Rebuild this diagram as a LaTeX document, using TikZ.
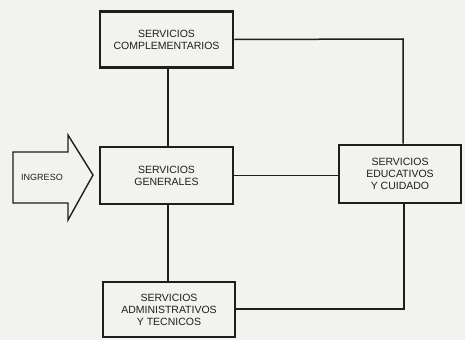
\documentclass[tikz,border=0pt]{standalone}
\usepackage{fontspec}
\setmainfont{Liberation Sans}
\usetikzlibrary{shapes.arrows}
\definecolor{paper}{RGB}{242,242,238}
\definecolor{ink}{RGB}{30,30,30}
\tikzset{
  svcbox/.style={draw=ink, line width=2.6pt, fill=paper, inner sep=0pt, align=center,
    font=\fontsize{10.5}{12}\selectfont, text=ink},
  link/.style={draw=ink, line width=1.5pt},
}
\begin{document}
\begin{tikzpicture}[x=1pt,y=-1pt]
\fill[paper] (0,0) rectangle (465,340);
\useasboundingbox (0,0) rectangle (465,340);
% boxes (pixel coords)
\node[svcbox, minimum width=133pt, minimum height=56pt] (comp) at (166.5,39.5) {SERVICIOS\\COMPLEMENTARIOS};
\node[svcbox, minimum width=133pt, minimum height=57pt] (gen) at (166.5,175.5) {SERVICIOS\\GENERALES};
\node[svcbox, minimum width=122pt, minimum height=58pt] (edu) at (400,174) {SERVICIOS\\EDUCATIVOS\\Y CUIDADO};
\node[svcbox, minimum width=132pt, minimum height=55pt] (adm) at (169,309.5) {SERVICIOS\\ADMINISTRATIVOS\\Y TECNICOS};
% ingreso arrow
\draw[ink, line width=1.4pt, fill=paper] (13,152) -- (68,152) -- (68,135) -- (93,175) -- (68,220) -- (68,203) -- (13,203) -- cycle;
\node[font=\fontsize{9}{10}\selectfont, text=ink, inner sep=0pt] (ing) at (42,177) {INGRESO};
% connectors
\coordinate (tr) at (403,39);
\coordinate (br) at (404,309);
\draw[link] (comp.south -| 168,0) -- (gen.north -| 168,0);
\draw[link] (gen.south -| 168,0) -- (adm.north -| 168,0);
\draw[link] (gen.east) -- (edu.west |- gen.east);
\draw[link] (comp.east) -- (tr) -- (edu.north -| tr);
\draw[link] (adm.east |- br) -- (br) -- (edu.south -| br);
\end{tikzpicture}
\end{document}
